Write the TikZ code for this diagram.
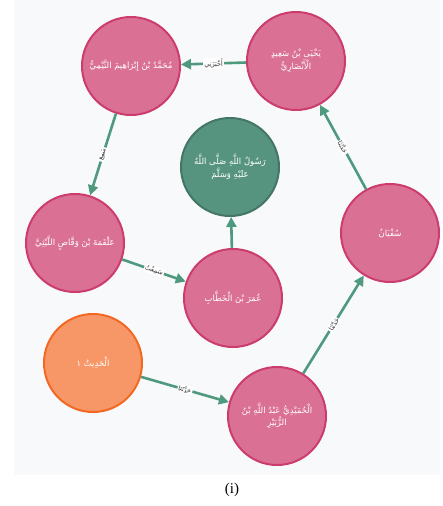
\documentclass[tikz,border=0pt]{standalone}
\usepackage{fontspec}
\usetikzlibrary{arrows.meta}
\TeXXeTstate=1
\newfontfamily\arabicfont[Script=Arabic]{DejaVu Sans}
\newfontfamily\captionfont{Liberation Serif}
\definecolor{panel}{HTML}{F7F9FB}
\definecolor{pinkfill}{HTML}{DA7194}
\definecolor{pinkline}{HTML}{CC3C6C}
\definecolor{greenfill}{HTML}{569480}
\definecolor{greenline}{HTML}{447666}
\definecolor{orangefill}{HTML}{F79767}
\definecolor{orangeline}{HTML}{F36924}
\definecolor{edgecol}{HTML}{4F9A7E}
\definecolor{labelcol}{HTML}{333333}
\tikzset{
  person/.style={circle, minimum size=98pt, inner sep=0pt, line width=2pt,
    draw=pinkline, fill=pinkfill, text=white, align=center,
    font=\arabicfont\fontsize{8.5}{10}\selectfont},
  prophet/.style={person, draw=greenline, fill=greenfill},
  hadith/.style={person, draw=orangeline, fill=orangefill},
  rel/.style={draw=edgecol, line width=2.6pt,
    -{Triangle[length=10pt,width=10pt]}},
  rellabel/.style={sloped, fill=white, inner sep=1pt, text=labelcol,
    font=\arabicfont\fontsize{6.5}{7}\selectfont}
}
\begin{document}
\begin{tikzpicture}[x=1pt,y=-1pt]
\useasboundingbox (0,0) rectangle (442,506);
% panel behind the graph
\fill[panel] (14,0) rectangle (440,475);

% narrators
\node[person] (muhammad) at (131,66) {\beginR مُحَمَّدُ بْنُ إِبْرَاهِيمَ التَّيْمِيُّ\endR};
\node[person] (yahya) at (296,61) {\beginR يَحْيَى بْنُ سَعِيدٍ\endR\\\beginR الْأَنْصَارِيُّ\endR};
\node[prophet] (rasul) at (230,167) {\beginR رَسُولُ اللَّهِ صَلَّى اللَّهُ\endR\\\beginR عَلَيْهِ وَسَلَّمَ\endR};
\node[person] (alqama) at (75,243) {\beginR عَلْقَمَةَ بْنَ وَقَّاصٍ اللَّيْثِيَّ\endR};
\node[person] (umar) at (233,298) {\beginR عُمَرَ بْنَ الْخَطَّابِ\endR};
\node[person] (sufyan) at (390,233) {\beginR سُفْيَانُ\endR};
\node[hadith] (hadith) at (93,363) {\beginR الْحَدِيثُ ١\endR};
\node[person] (humaydi) at (277,416) {\beginR الْحُمَيْدِيُّ عَبْدُ اللَّهِ بْنُ\endR\\\beginR الزُّبَيْرِ\endR};

% chain of transmission
\draw[rel] (yahya) -- node[rellabel] {\beginR أَخْبَرَنِي\endR} (muhammad);
\draw[rel] (muhammad) -- node[rellabel] {\beginR سَمِعَ\endR} (alqama);
\draw[rel] (alqama) -- node[rellabel] {\beginR سَمِعْتُ\endR} (umar);
\draw[rel] (umar) -- (rasul);
\draw[rel] (sufyan) -- node[rellabel] {\beginR حَدَّثَنَا\endR} (yahya);
\draw[rel] (humaydi) -- node[rellabel] {\beginR حَدَّثَنَا\endR} (sufyan);
\draw[rel] (hadith) -- node[rellabel] {\beginR حَدَّثَنَا\endR} (humaydi);

% caption
\node[font=\captionfont\fontsize{15}{17}\selectfont] (caption) at (232,490) {(i)};
\end{tikzpicture}
\end{document}
